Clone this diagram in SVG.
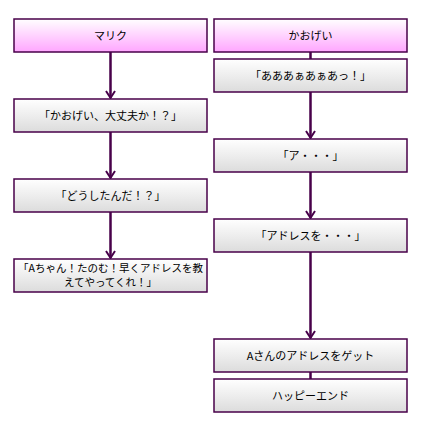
<svg xmlns="http://www.w3.org/2000/svg" width="424" height="428" viewBox="0 0 424 428">
<style>
.box{stroke:#48004a;stroke-width:1.5}
.n{fill:url(#g)}
.h{fill:url(#p)}
text{font-family:"Noto Sans CJK JP","Noto Sans",sans-serif;font-size:11px;fill:#000;text-anchor:middle}
.s{font-size:10.5px}
.c{stroke:#48004a;stroke-width:2.5;fill:none}
.a{stroke:#48004a;stroke-width:2;fill:none}
</style>
<defs>
<linearGradient id="g" x1="0" y1="0" x2="0" y2="1"><stop offset="0" stop-color="#ffffff"/><stop offset="1" stop-color="#dcdcdc"/></linearGradient>
<linearGradient id="p" x1="0" y1="0" x2="0" y2="1"><stop offset="0" stop-color="#ffffff"/><stop offset="1" stop-color="#ffa6ff"/></linearGradient>
</defs>
<rect width="424" height="428" fill="#fff"/>
<g id="connectors">
<path class="c" d="M110.5 52V98M110.5 132V178M110.5 212V258M310.5 52V59M310.5 92V138M310.5 172V218M310.5 252V338M310.5 372V379"/>
<path class="a" d="M106 91L110.5 98L115 91M106 171L110.5 178L115 171M106 251L110.5 258L115 251M306 131L310.5 138L315 131M306 211L310.5 218L315 211M306 331L310.5 338L315 331"/>
</g>
<g id="n1"><rect class="box h" x="14" y="19" width="193" height="33"/><text x="110.5" y="39.5">マリク</text></g>
<g id="n2"><rect class="box n" x="14" y="99" width="193" height="33"/><text x="110.5" y="119.5">「かおげい、大丈夫か！？」</text></g>
<g id="n3"><rect class="box n" x="14" y="179" width="193" height="33"/><text x="110.5" y="199.5">「どうしたんだ！？」</text></g>
<g id="n4"><rect class="box n" x="14" y="259" width="193" height="33"/><text class="s" x="110.5" y="272">「Aちゃん！たのむ！早くアドレスを教</text><text class="s" x="110.5" y="286">えてやってくれ！」</text></g>
<g id="m1"><rect class="box h" x="214" y="19" width="193" height="33"/><text x="310.5" y="39.5">かおげい</text></g>
<g id="m2"><rect class="box n" x="214" y="59" width="193" height="33"/><text x="310.5" y="79.5">「あああぁあぁあっ！」</text></g>
<g id="m3"><rect class="box n" x="214" y="139" width="193" height="33"/><text x="310.5" y="159.5">「ア・・・」</text></g>
<g id="m4"><rect class="box n" x="214" y="219" width="193" height="33"/><text x="310.5" y="239.5">「アドレスを・・・」</text></g>
<g id="m5"><rect class="box n" x="214" y="339" width="193" height="33"/><text x="310.5" y="359.5">Aさんのアドレスをゲット</text></g>
<g id="m6"><rect class="box n" x="214" y="379" width="193" height="33"/><text x="310.5" y="399.5">ハッピーエンド</text></g>
</svg>
